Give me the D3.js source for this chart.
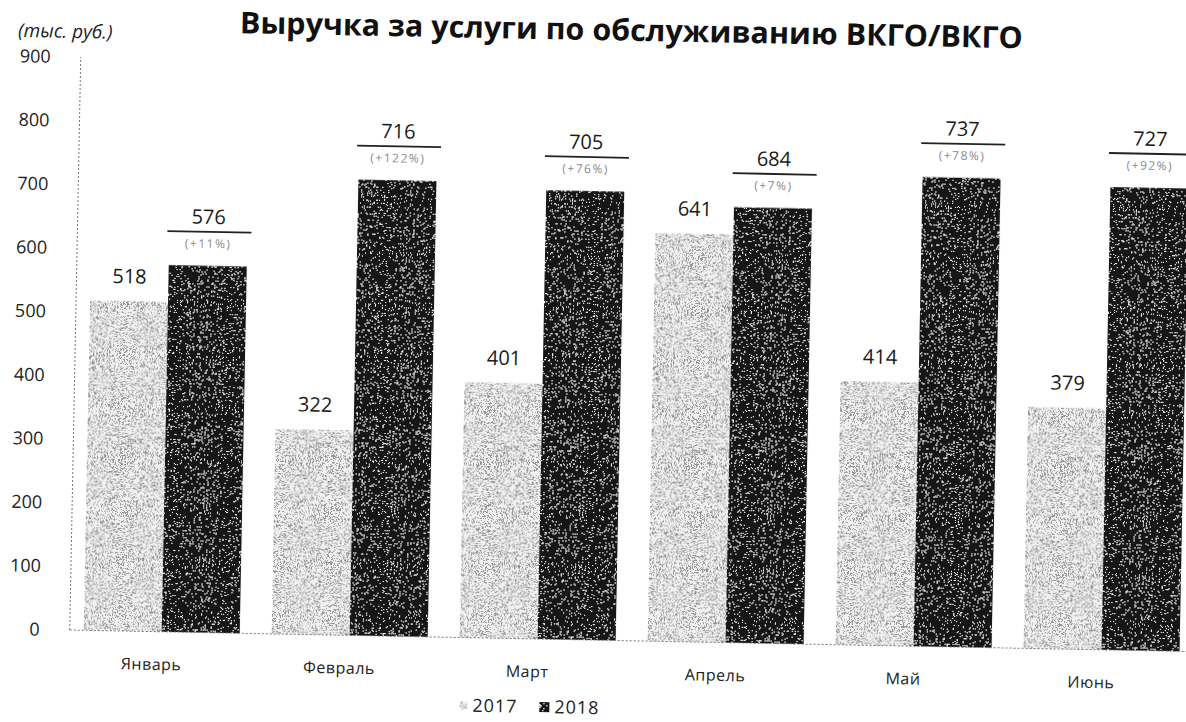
<!DOCTYPE html>
<html>
<head>
<meta charset="utf-8">
<script src="https://cdn.jsdelivr.net/npm/d3@7"></script>
<style>
  body { margin: 0; background: #fff; }
  svg { display: block; font-family: "Open Sans", "DejaVu Sans", sans-serif; }
</style>
</head>
<body>
<svg id="chart" width="1186" height="722"></svg>
<script>
// chart data
const months = ["Январь", "Февраль", "Март", "Апрель", "Май", "Июнь"];
const values2017 = [518, 322, 401, 641, 414, 379];
const values2018 = [576, 716, 705, 684, 737, 727];
const yTicks = [0, 100, 200, 300, 400, 500, 600, 700, 800, 900];
const seriesNames = ["2017", "2018"];

const svg = d3.select("#chart");
const W = +svg.attr("width"), H = +svg.attr("height");

// stipple textures to mimic the scanned printout
const defs = svg.append("defs");
function stipple(id, dotRGB, threshold, seed) {
  // alpha table: 0 below threshold, 1 above (20 steps)
  const table = d3.range(20).map(k => (k / 20 >= threshold ? 1 : 0)).join(" ");
  const f = defs.append("filter").attr("id", id)
      .attr("x", 0).attr("y", 0).attr("width", 1).attr("height", 1);
  f.append("feTurbulence")
      .attr("type", "fractalNoise")
      .attr("baseFrequency", 2.3)
      .attr("numOctaves", 1)
      .attr("seed", seed)
      .attr("result", "noise");
  f.append("feColorMatrix")
      .attr("in", "noise")
      .attr("type", "matrix")
      .attr("values", `0 0 0 0 ${dotRGB}  0 0 0 0 ${dotRGB}  0 0 0 0 ${dotRGB}  1 0 0 0 0`)
      .attr("result", "raw");
  const ct = f.append("feComponentTransfer").attr("in", "raw").attr("result", "dots");
  ct.append("feFuncA").attr("type", "discrete").attr("tableValues", table);
  f.append("feComposite").attr("in", "dots").attr("in2", "SourceGraphic")
      .attr("operator", "in").attr("result", "clipped");
  const m = f.append("feMerge");
  m.append("feMergeNode").attr("in", "SourceGraphic");
  m.append("feMergeNode").attr("in", "clipped");
}
stipple("stipLight", 0.3, 0.55, 4);
stipple("stipDark", 0.85, 0.65, 9);

// the scan is tilted slightly clockwise
const root = svg.append("g").attr("transform", `rotate(1.1, ${W / 2}, ${H / 2})`);

const x0 = 75;
const y = d3.scaleLinear().domain([0, 900]).range([640, 67]);
const x = d3.scaleBand().domain(months).range([73, 1201])
    .paddingInner(0.17).paddingOuter(0.085);
const xs = d3.scaleBand().domain(seriesNames).range([0, x.bandwidth()]);

// title
root.append("text")
    .attr("x", 625)
    .attr("y", 40)
    .attr("text-anchor", "middle")
    .attr("textLength", 783)
    .attr("lengthAdjust", "spacingAndGlyphs")
    .style("font-size", "30px")
    .style("font-weight", "bold")
    .style("fill", "#111")
    .text("Выручка за услуги по обслуживанию ВКГО/ВКГО");

root.append("text")
    .attr("x", 12)
    .attr("y", 48)
    .style("font-size", "19px")
    .style("font-style", "italic")
    .style("fill", "#222")
    .text("(тыс. руб.)");

// y axis
const yAxis = root.append("g")
    .attr("transform", `translate(${x0},0)`)
    .call(d3.axisLeft(y).tickValues(yTicks).tickSize(0).tickPadding(30));
yAxis.select(".domain").remove();
yAxis.selectAll("text")
    .style("font-size", "18px")
    .style("font-family", "\"Open Sans\", sans-serif")
    .style("fill", "#222");

root.append("line")
    .attr("x1", x0).attr("x2", x0)
    .attr("y1", y(0)).attr("y2", y(900))
    .style("stroke", "#777")
    .style("stroke-dasharray", "2,2");

// bars
const groups = root.selectAll(".month")
  .data(months)
  .enter().append("g")
    .attr("class", "month")
    .attr("transform", d => `translate(${x(d)},0)`);

groups.append("rect")
    .attr("x", xs("2017"))
    .attr("width", xs.bandwidth())
    .attr("y", (d, i) => y(values2017[i]))
    .attr("height", (d, i) => y(0) - y(values2017[i]))
    .style("fill", "#f0f0f0")
    .attr("filter", "url(#stipLight)");

groups.append("rect")
    .attr("x", xs("2018"))
    .attr("width", xs.bandwidth())
    .attr("y", (d, i) => y(values2018[i]))
    .attr("height", (d, i) => y(0) - y(values2018[i]))
    .style("fill", "#161616")
    .attr("filter", "url(#stipDark)");

// baseline
root.append("line")
    .attr("x1", x0).attr("x2", 1230)
    .attr("y1", y(0)).attr("y2", y(0))
    .style("stroke", "#777")
    .style("stroke-dasharray", "2,2");

// 2017 labels
groups.append("text")
    .attr("x", xs("2017") + xs.bandwidth() / 2)
    .attr("y", (d, i) => y(values2017[i]) - 18)
    .attr("text-anchor", "middle")
    .style("font-size", "20px")
    .style("fill", "#1a1a1a")
    .text((d, i) => values2017[i]);

// 2018 labels with growth
const lab = groups.append("g")
    .attr("transform", (d, i) => `translate(${xs("2018") + xs.bandwidth() / 2},${y(values2018[i])})`);
lab.append("text")
    .attr("y", -42)
    .attr("text-anchor", "middle")
    .style("font-size", "20px")
    .style("fill", "#1a1a1a")
    .text((d, i) => values2018[i]);
lab.append("line")
    .attr("x1", -xs.bandwidth() / 2 - 2)
    .attr("x2", xs.bandwidth() / 2 + 4)
    .attr("y1", -34).attr("y2", -34)
    .style("stroke", "#222")
    .style("stroke-width", 1.8);
lab.append("text")
    .attr("y", -18)
    .attr("text-anchor", "middle")
    .style("font-size", "12px")
    .style("fill", "#8a8a8a")
    .style("letter-spacing", "1.5px")
    .text((d, i) => "(+" + Math.round((values2018[i] / values2017[i] - 1) * 100) + "%)");

// month labels
const xAxis = root.append("g")
    .attr("transform", `translate(0,${y(0)})`)
    .call(d3.axisBottom(x).tickSize(0).tickPadding(27));
xAxis.select(".domain").remove();
xAxis.selectAll("text")
    .attr("dx", -10)
    .style("font-size", "16px")
    .style("font-family", "\"Open Sans\", sans-serif")
    .style("letter-spacing", "0.5px")
    .style("fill", "#222");

// legend
const legend = root.append("g").attr("transform", "translate(466,714)");
const legendItems = [
  { name: seriesNames[0], fill: "#f0f0f0", filter: "url(#stipLight)", x: 0, size: 8 },
  { name: seriesNames[1], fill: "#161616", filter: "url(#stipDark)", x: 80, size: 10 }
];
const li = legend.selectAll("g").data(legendItems).enter().append("g")
    .attr("transform", d => `translate(${d.x},0)`);
li.append("rect")
    .attr("y", d => -6 - d.size / 2)
    .attr("width", d => d.size)
    .attr("height", d => d.size)
    .style("fill", d => d.fill)
    .attr("filter", d => d.filter);
li.append("text")
    .attr("x", d => d.size + 5)
    .style("font-size", "18px")
    .style("letter-spacing", "1px")
    .style("fill", "#222")
    .text(d => d.name);
</script>
</body>
</html>
